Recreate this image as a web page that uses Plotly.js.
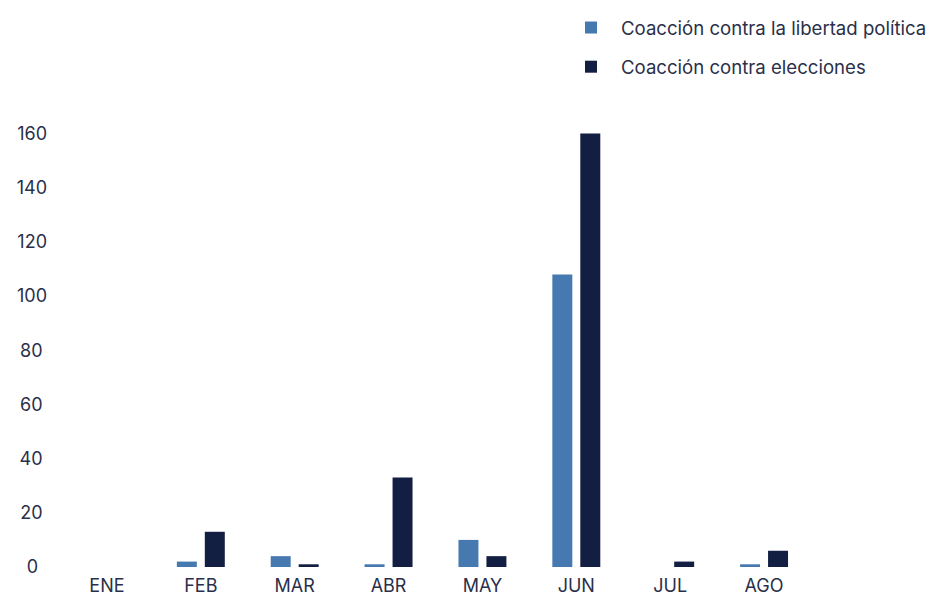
<!DOCTYPE html>
<html>
<head>
<meta charset="utf-8">
<script src="https://cdn.plot.ly/plotly-3.0.1.min.js"></script>
<style>html,body{margin:0;padding:0;background:#fff;}#chart{width:932px;height:595px;}</style>
</head>
<body>
<div id="chart"></div>
<script>
const months = ["ENE","FEB","MAR","ABR","MAY","JUN","JUL","AGO"];
const libertadPolitica = [0, 2, 4, 1, 10, 108, 0, 1];
const elecciones = [0, 13, 1, 33, 4, 160, 2, 6];
const yTickVals = [0, 20, 40, 60, 80, 100, 120, 140, 160];
const yTickText = ["0\u2005\u2005", "20\u2005", "40\u2005", "60\u2005", "80\u2005", "100", "120", "140", "160"];

const textColor = "#2a2f4a";
const traces = [
  {type: "bar", name: "Coacción contra la libertad política", x: months, y: libertadPolitica,
   legendgroup: "a", marker: {color: "#4679b0"}, hoverinfo: "x+y"},
  {type: "bar", name: "Coacción contra elecciones", x: months, y: elecciones,
   legendgroup: "b", marker: {color: "#121e42"}, hoverinfo: "x+y"}
];
const layout = {
  width: 932, height: 595,
  margin: {l: 60, r: 121, t: 120, b: 28},
  paper_bgcolor: "#fff", plot_bgcolor: "#fff",
  font: {family: "Inter, Lato, sans-serif", size: 18, color: textColor},
  barmode: "group", bargap: 0.404, bargroupgap: 0.286,
  showlegend: true,
  legend: {x: 0.673, y: 0.985, yref: "container", xanchor: "left", yanchor: "top",
           traceorder: "grouped", tracegroupgap: 12,
           font: {size: 18.6, color: textColor}, itemwidth: 50},
  xaxis: {type: "category", categoryorder: "array", categoryarray: months,
          showgrid: false, zeroline: false, showline: false, ticks: "",
          ticklabelstandoff: 6, tickfont: {size: 18, color: textColor}},
  yaxis: {range: [0, 165], showgrid: false, zeroline: false, showline: false, ticks: "",
          tickmode: "array", tickvals: yTickVals, ticktext: yTickText,
          ticklabelstandoff: 12, tickfont: {size: 18, color: textColor}}
};
Plotly.newPlot("chart", traces, layout, {displayModeBar: false, staticPlot: true});
</script>
</body>
</html>
